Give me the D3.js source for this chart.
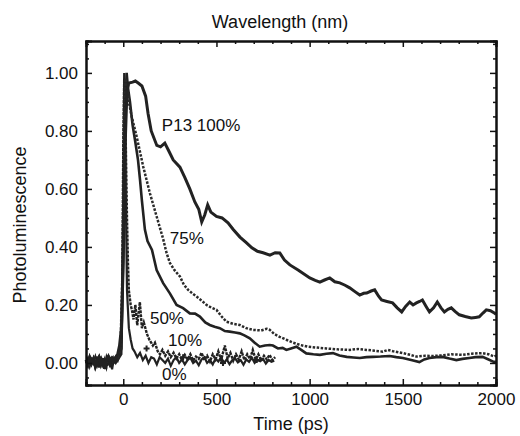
<!DOCTYPE html>
<html>
<head>
<meta charset="utf-8">
<script src="https://cdn.jsdelivr.net/npm/d3@7"></script>
<style>
  body { margin: 0; background: #fff; }
  text { font-family: "Liberation Sans", Arial, Helvetica, sans-serif; fill: #111; }
</style>
</head>
<body>
<div id="container"></div>
<script>
// ---- data ----
let xTicksMajor = [0, 500, 1000, 1500, 2000];
let yTicksMajor = [0, 0.2, 0.4, 0.6, 0.8, 1.0];

let baseline = [[-200,0.01],[-190,-0.006],[-180,0.018],[-170,0.0],[-160,0.014],[-150,-0.012],[-140,0.008],
  [-130,0.02],[-120,-0.004],[-110,0.016],[-100,-0.02],[-90,0.01],[-80,0.022],[-70,0.004],[-60,0.016],[-50,0.006],[-40,0.02]];

let series100 = [[-30,0.03],[-20,0.06],[-10,0.12],[0,0.35],[10,0.75],[20,0.94],[30,0.965],[50,0.968],[65,0.972],[80,0.965],
  [100,0.955],[120,0.92],[133,0.86],[150,0.8],[180,0.75],[200,0.745],[223,0.758],[245,0.73],[268,0.7],[304,0.675],
  [330,0.64],[357,0.6],[384,0.555],[405,0.53],[421,0.486],[437,0.51],[453,0.545],[470,0.52],[500,0.505],[530,0.5],
  [562,0.483],[590,0.46],[626,0.434],[660,0.415],[690,0.397],[720,0.385],[750,0.38],[787,0.372],[815,0.38],[840,0.379],
  [865,0.355],[894,0.338],[940,0.32],[1001,0.293],[1030,0.285],[1055,0.279],[1080,0.286],[1108,0.293],[1135,0.28],
  [1162,0.276],[1190,0.268],[1215,0.259],[1245,0.245],[1269,0.234],[1290,0.24],[1306,0.241],[1330,0.248],[1349,0.252],
  [1370,0.23],[1386,0.217],[1415,0.212],[1445,0.207],[1470,0.19],[1494,0.176],[1515,0.195],[1537,0.21],[1555,0.2],
  [1573,0.207],[1590,0.212],[1605,0.217],[1625,0.195],[1643,0.176],[1665,0.19],[1685,0.21],[1705,0.19],[1723,0.176],
  [1742,0.185],[1760,0.19],[1780,0.178],[1803,0.166],[1835,0.16],[1867,0.155],[1890,0.157],[1910,0.159],[1930,0.172],
  [1948,0.183],[1970,0.18],[1991,0.172],[2000,0.168]];

let series75 = [[-30,0.02],[-15,0.05],[-5,0.3],[5,0.8],[12,0.98],[20,0.95],[30,0.9],[45,0.85],[72,0.78],[107,0.677],
  [143,0.585],[179,0.505],[213,0.43],[232,0.38],[250,0.345],[275,0.32],[304,0.298],[325,0.27],[348,0.252],[370,0.24],
  [393,0.229],[420,0.215],[447,0.2],[475,0.19],[500,0.183],[528,0.16],[554,0.142],[590,0.135],[625,0.131],[660,0.12],
  [696,0.114],[740,0.112],[770,0.118],[786,0.114],[810,0.1],[839,0.09],[875,0.08],[911,0.07],[950,0.062],[991,0.056],
  [1040,0.053],[1089,0.05],[1150,0.047],[1215,0.045],[1260,0.048],[1306,0.045],[1350,0.042],[1393,0.039],[1420,0.045],
  [1450,0.04],[1500,0.034],[1540,0.028],[1572,0.022],[1620,0.025],[1660,0.024],[1713,0.026],[1760,0.03],[1821,0.028],
  [1870,0.032],[1928,0.034],[1960,0.03],[1991,0.022],[2000,0.025]];

let series50 = [[-30,0.01],[-10,0.05],[0,0.4],[10,0.85],[18,1.0],[25,0.95],[36,0.9],[50,0.82],[65,0.76],[79,0.7],
  [90,0.63],[100,0.56],[116,0.46],[130,0.42],[154,0.39],[179,0.32],[214,0.275],[250,0.24],[286,0.2],[321,0.189],
  [357,0.171],[385,0.17],[411,0.16],[440,0.14],[464,0.131],[490,0.125],[518,0.12],[545,0.11],[571,0.108],[600,0.105],
  [625,0.102],[650,0.095],[679,0.085],[705,0.07],[732,0.056],[760,0.06],[786,0.062],[803,0.06],[830,0.05],[855,0.052],
  [875,0.045],[900,0.05],[929,0.056],[955,0.045],[982,0.033],[1020,0.03],[1055,0.028],[1090,0.032],[1125,0.034],
  [1160,0.026],[1199,0.021],[1235,0.019],[1269,0.017],[1305,0.02],[1338,0.021],[1380,0.022],[1429,0.024],[1465,0.02],
  [1500,0.017],[1545,0.01],[1589,0.003],[1615,0.012],[1643,0.017],[1680,0.02],[1713,0.021],[1750,0.015],[1787,0.01],
  [1820,0.014],[1857,0.017],[1890,0.02],[1928,0.021],[1960,0.012],[1991,0.003],[2000,0.005]];

let series10 = [[-200,0.0],[-190,0.015],[-180,-0.01],[-170,0.012],[-160,0.0],[-150,0.02],[-140,-0.008],[-130,0.01],
  [-120,0.018],[-110,-0.006],[-100,0.012],[-90,-0.015],[-80,0.008],[-70,0.015],[-60,-0.004],[-50,0.012],[-40,0.0],
  [-30,0.02],[-20,0.03],[-10,0.08],[-5,0.3],[0,0.75],[5,0.98],[10,0.9],[15,0.7],[20,0.5],[25,0.35],[30,0.25],[40,0.2],
  [47,0.18],[55,0.15],[65,0.2],[75,0.13],[89,0.21],[100,0.12],[110,0.14],[127,0.1],[140,0.08],[159,0.06],[170,0.07],
  [185,0.04],[197,0.03],[210,0.045],[225,0.025],[240,0.04],[255,0.02],[270,0.035],[285,0.015],[300,0.03],[315,0.01],
  [330,0.028],[345,0.012],[360,0.03],[375,0.008],[390,0.022],[405,0.014],[420,0.035],[435,0.01],[450,0.025],[465,0.005],
  [480,0.03],[495,0.012],[510,0.04],[525,0.01],[545,0.06],[560,0.015],[575,0.035],[590,0.008],[605,0.03],[620,0.012],
  [635,0.04],[650,0.01],[665,0.03],[680,0.014],[695,0.045],[710,0.012],[725,0.03],[740,0.008],[755,0.025],[770,0.012],
  [785,0.028],[800,0.01],[815,0.02]];

let series0 = [[-200,0.01],[-190,-0.012],[-180,0.02],[-170,-0.004],[-160,0.015],[-150,-0.006],[-140,0.022],[-130,-0.016],
  [-120,0.01],[-110,0.004],[-100,-0.012],[-90,0.02],[-80,0.0],[-70,0.01],[-60,-0.022],[-50,0.015],[-40,0.0],[-30,0.01],
  [-20,0.02],[-10,0.03],[-5,0.2],[0,0.6],[5,1.0],[10,0.85],[15,0.5],[20,0.25],[30,0.12],[40,0.08],[50,0.05],[60,0.04],
  [75,0.02],[90,0.035],[105,0.01],[120,0.025],[135,0.0],[150,0.02],[165,0.015],[180,-0.005],[195,0.02],[210,0.01],
  [225,0.0],[240,0.015],[255,-0.01],[270,0.01],[285,0.02],[300,0.0],[315,0.012],[330,-0.005],[345,0.01],[360,0.018],
  [375,0.0],[390,0.008],[405,-0.008],[420,0.012],[435,0.02],[450,0.0],[465,0.01],[480,-0.005],[495,0.015],[510,0.005],
  [525,0.02],[540,0.0],[555,0.012],[570,-0.004],[585,0.01],[600,0.016],[615,0.002],[630,0.01],[645,-0.006],[660,0.012],
  [675,0.004],[690,0.018],[705,0.0],[720,0.01],[735,0.006],[750,0.014],[765,-0.002],[780,0.01],[795,0.004],[810,0.008]];

let plusMarks = [[-71,-0.005],[125,0.05],[321,0.02],[535,0.0],[716,0.01]];

let curveLabels = [
  {text: "P13 100%", t: 207, v: 0.8},
  {text: "75%", t: 250, v: 0.41},
  {text: "50%", t: 143, v: 0.135},
  {text: "10%", t: 240, v: 0.06},
  {text: "0%", t: 208, v: -0.06}
];

// ---- layout ----
let w = 520;
let h = 436;
let m = {left: 86, right: 24, top: 41, bottom: 51};

let svg = d3.select("#container")
  .append("svg")
  .attr("width", w)
  .attr("height", h);

let x = d3.scaleLinear().domain([-200, 2000]).range([m.left, w - m.right]);
let y = d3.scaleLinear().domain([-0.076, 1.11]).range([h - m.bottom, m.top]);

let xMinor = d3.range(-200, 2001, 100).filter(d => d % 500 !== 0);
let yMinor = d3.range(-0.05, 1.11, 0.05).filter(d => Math.abs(d*5 - Math.round(d*5)) > 1e-6);

// curves
let line = d3.line().x(d => x(d[0])).y(d => y(d[1]));
let plot = svg.append("g");

plot.append("path").datum(series0).attr("d", line)
  .attr("fill", "none").attr("stroke", "#222").attr("stroke-width", 2.2);
plot.append("path").datum(series10).attr("d", line)
  .attr("fill", "none").attr("stroke", "#222").attr("stroke-width", 2.4).attr("stroke-dasharray", "3,1");
plot.append("path").datum(baseline.concat(series50)).attr("d", line)
  .attr("fill", "none").attr("stroke", "#222").attr("stroke-width", 2.6);
plot.append("path").datum(baseline.concat(series75)).attr("d", line)
  .attr("fill", "none").attr("stroke", "#2a2a2a").attr("stroke-width", 2.5).attr("stroke-dasharray", "2.5,1.5");
plot.append("path").datum(baseline.concat(series100)).attr("d", line)
  .attr("fill", "none").attr("stroke", "#222").attr("stroke-width", 3);

plot.selectAll(".plus").data(plusMarks).enter()
  .append("path")
  .attr("class", "plus")
  .attr("d", d3.symbol(d3.symbolCross, 20))
  .attr("transform", d => `translate(${x(d[0])},${y(d[1])})`)
  .attr("fill", "#222");

svg.selectAll(".clabel").data(curveLabels).enter()
  .append("text")
  .attr("class", "clabel")
  .attr("x", d => x(d.t))
  .attr("y", d => y(d.v))
  .attr("font-size", 17)
  .text(d => d.text);

// axes: major and minor ticks in separate groups, all pointing inward
function axisPair(axisFn, scale, pos, major, minor, labels, fmt) {
  let g1 = svg.append("g").attr("transform", pos);
  g1.call(axisFn(scale).tickValues(major).tickSize(-6).tickPadding(labels ? 8 : 0)
      .tickFormat(labels ? fmt : ""));
  let g2 = svg.append("g").attr("transform", pos);
  g2.call(axisFn(scale).tickValues(minor).tickSize(-3).tickFormat(""));
  return g1;
}

axisPair(d3.axisBottom, x, `translate(0,${h - m.bottom})`, xTicksMajor, xMinor, true, d3.format("d"));
axisPair(d3.axisTop, x, `translate(0,${m.top})`, xTicksMajor, xMinor, false);
axisPair(d3.axisLeft, y, `translate(${m.left},0)`, yTicksMajor, yMinor, true, d3.format(".2f"));
axisPair(d3.axisRight, y, `translate(${w - m.right},0)`, yTicksMajor, yMinor, false);

svg.selectAll(".domain").attr("stroke", "#111").attr("stroke-width", 2);
svg.selectAll(".tick line").attr("stroke", "#111").attr("stroke-width", 1.5);
svg.selectAll(".tick text").attr("font-size", 17).attr("fill", "#111")
  .attr("font-family", "Liberation Sans, Arial, sans-serif");

svg.append("text").attr("x", 280).attr("y", 28).attr("text-anchor", "middle")
  .attr("font-size", 18).text("Wavelength (nm)");
svg.append("text").attr("x", 291).attr("y", 430).attr("text-anchor", "middle")
  .attr("font-size", 18).text("Time (ps)");
svg.append("text").attr("transform", "translate(26,225) rotate(-90)").attr("text-anchor", "middle")
  .attr("font-size", 18).text("Photoluminescence");
</script>
</body>
</html>
